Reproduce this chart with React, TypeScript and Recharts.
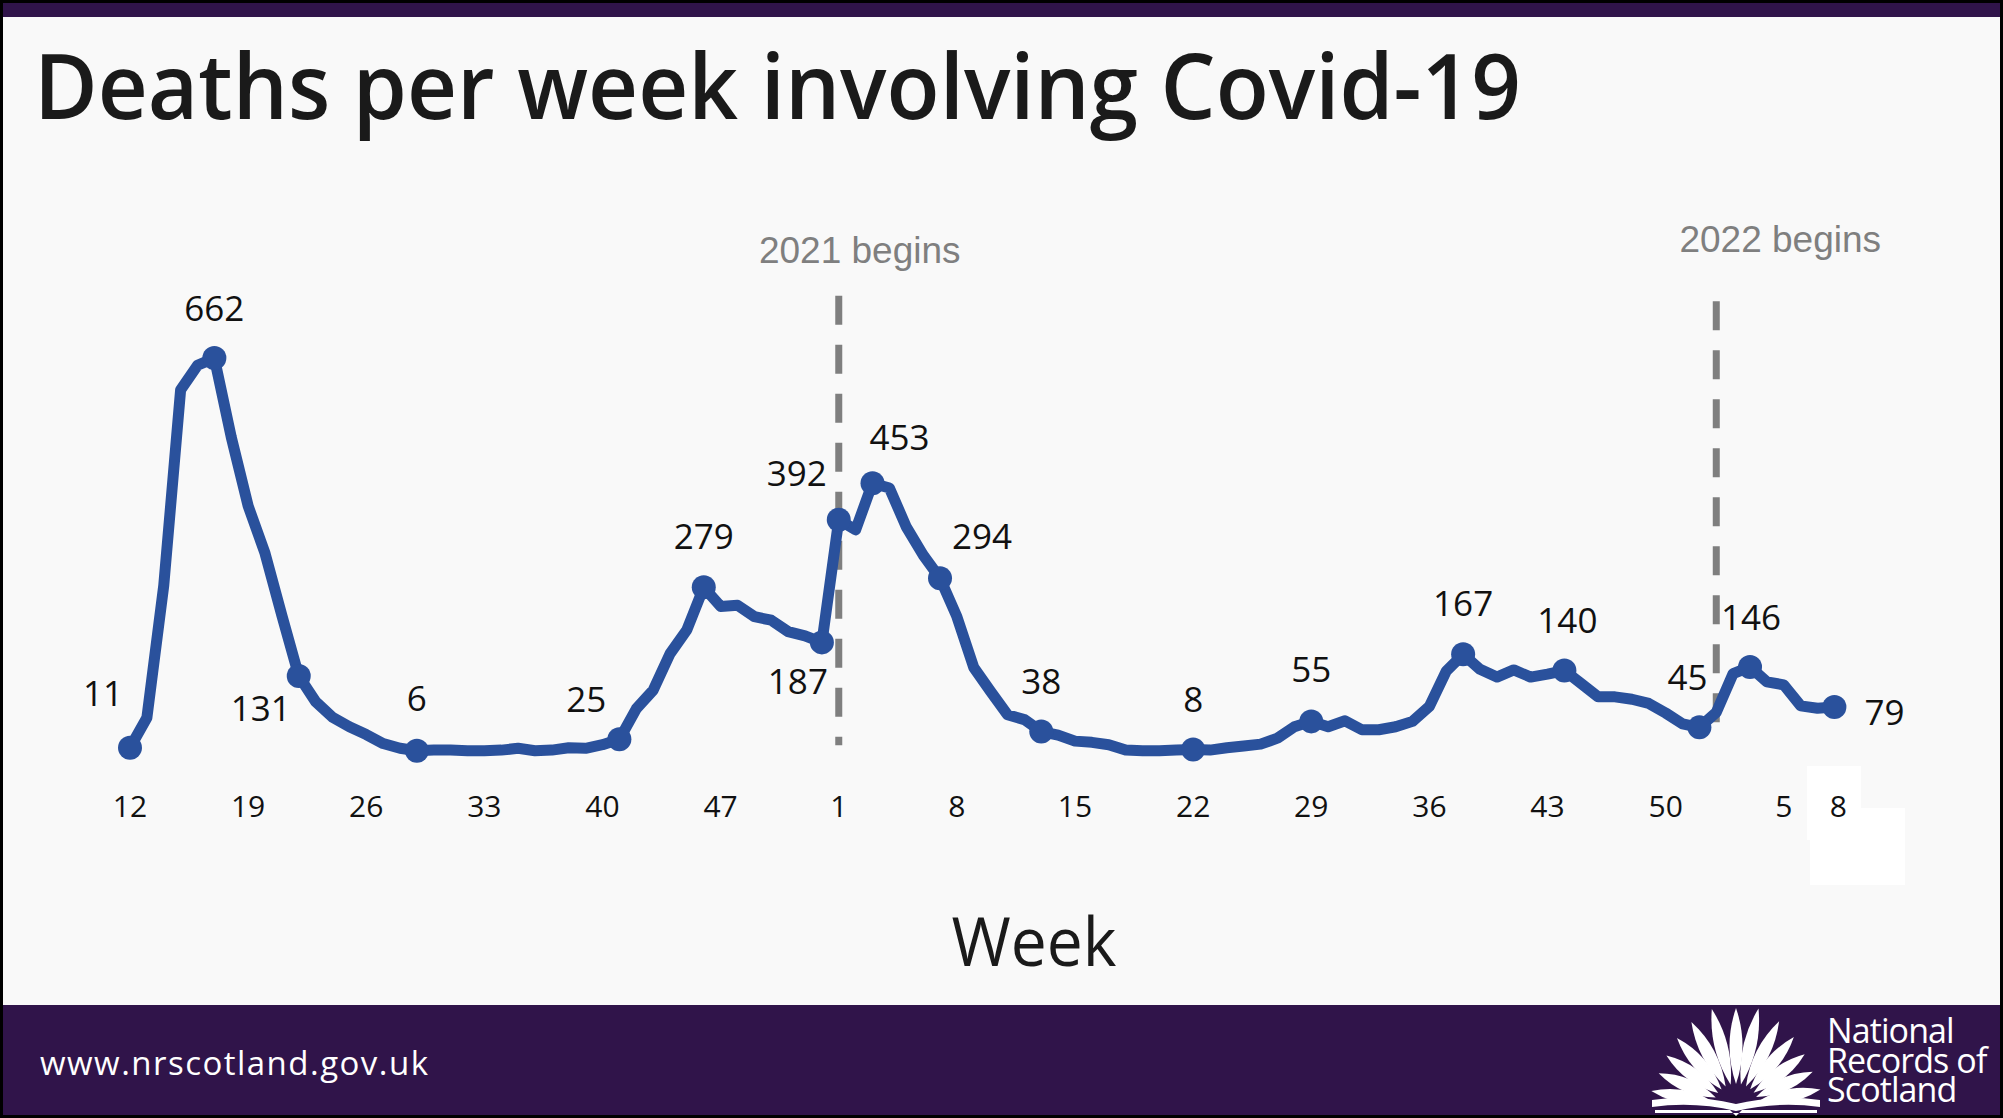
import React from 'react';
import { LineChart, Line, XAxis, YAxis, ReferenceLine } from 'recharts';

// ---- data ----
const weeks2020 = [12, 13, 14, 15, 16, 17, 18, 19, 20, 21, 22, 23, 24, 25, 26, 27, 28, 29, 30, 31, 32, 33, 34, 35, 36, 37, 38, 39, 40, 41, 42, 43, 44, 45, 46, 47, 48, 49, 50, 51, 52, 53];
const deaths2020 = [11, 61, 282, 609, 650, 662, 530, 415, 336, 232, 131, 88, 62, 46, 33, 18, 10, 6, 7, 7, 6, 6, 7, 10, 6, 7, 11, 10, 16, 25, 76, 107, 168, 208, 279, 247, 249, 230, 224, 205, 198, 187];
const weeks2021 = [1, 2, 3, 4, 5, 6, 7, 8, 9, 10, 11, 12, 13, 14, 15, 16, 17, 18, 19, 20, 21, 22, 23, 24, 25, 26, 27, 28, 29, 30, 31, 32, 33, 34, 35, 36, 37, 38, 39, 40, 41, 42, 43, 44, 45, 46, 47, 48, 49, 50, 51, 52];
const deaths2021 = [392, 375, 453, 445, 380, 333, 294, 230, 145, 105, 66, 58, 38, 32, 22, 20, 16, 7, 6, 6, 7, 8, 7, 11, 14, 17, 27, 46, 55, 46, 56, 41, 41, 46, 55, 80, 139, 167, 142, 129, 141, 129, 134, 140, 118, 96, 96, 92, 85, 69, 51, 45];
const weeks2022 = [1, 2, 3, 4, 5, 6, 7, 8];
const deaths2022 = [70, 135, 146, 121, 116, 81, 77, 79];

const tickKeys = ['2020-12', '2020-19', '2020-26', '2020-33', '2020-40', '2020-47', '2021-1', '2021-8', '2021-15', '2021-22', '2021-29', '2021-36', '2021-43', '2021-50', '2022-5', '2022-8'];
const labelledKeys = ['2020-12', '2020-17', '2020-22', '2020-29', '2020-41', '2020-46', '2020-53', '2021-1', '2021-3', '2021-7', '2021-13', '2021-22', '2021-29', '2021-38', '2021-44', '2021-52', '2022-3', '2022-8'];
const yearStartKeys = ['2021-1', '2022-1'];
const yearStartLabels = ['2021 begins', '2022 begins'];

// ---- build table ----
type Row = { i: number; key: string; week: number; deaths: number };
const rows: Row[] = [];
const pushYear = (year: number, weeks: number[], vals: number[]) => {
  weeks.forEach((w, k) => {
    rows.push({ i: rows.length, key: `${year}-${w}`, week: w, deaths: vals[k] });
  });
};
pushYear(2020, weeks2020, deaths2020);
pushYear(2021, weeks2021, deaths2021);
pushYear(2022, weeks2022, deaths2022);
const idxOf = (key: string) => rows.findIndex((r) => r.key === key);
const tickIdx = tickKeys.map(idxOf);
const labelledSet = new Set(labelledKeys.map(idxOf));

// ---- styles ----
const LINE = '#2a519c';
const PURPLE = '#30144a';
const BG = '#f9f9f9';
const GREY = '#7f7f7f';
const TEXT = '#111111';
const SANS = '"Open Sans", "Noto Sans", sans-serif';

// label centre offsets relative to marker (style, by key)
const labelOffset: Record<string, [number, number]> = {
  '2020-12': [-27, -54],
  '2020-17': [0, -50],
  '2020-22': [-38, 33],
  '2020-29': [0, -52],
  '2020-41': [-33, -40],
  '2020-46': [0, -51],
  '2020-53': [-24, 39],
  '2021-1': [-42, -46],
  '2021-3': [27, -46],
  '2021-7': [42, -42],
  '2021-13': [0, -50],
  '2021-22': [0, -50],
  '2021-29': [0, -52],
  '2021-38': [0, -51],
  '2021-44': [3, -50],
  '2021-52': [-12, -50],
  '2022-3': [1, -49],
  '2022-8': [50, 5],
};
const tickDx: Record<string, number> = { '2022-8': 4 };
const yearLabelOffset = [33, 49];
const yearLabelDx = [21, 64];
const yearLineTop = [766, 757];
const yearLineBottom = [15, 32];

const renderDot = (props: any) => {
  const { cx, cy, index, payload } = props;
  if (!labelledSet.has(index) || cx == null || cy == null) return <g key={`d-${index}`} />;
  const off = labelOffset[payload.key] || [0, -50];
  const fs = 35;
  return (
    <g key={`d-${index}`}>
      <circle cx={cx} cy={cy} r={12} fill={LINE} stroke="none" />
      <text
        x={cx + off[0]}
        y={cy + off[1] + fs * 0.357}
        textAnchor="middle"
        fontFamily={SANS}
        fontSize={fs}
        fill={TEXT}
      >
        {payload.deaths}
      </text>
    </g>
  );
};

const renderTick = (props: any) => {
  const { x, y, payload, index } = props;
  const r = rows[payload.value];
  const dx = r ? tickDx[r.key] || 0 : 0;
  return (
    <text key={`t-${index}`} x={x + dx} y={y + 62.4} textAnchor="middle" fontFamily={SANS} fontSize={30} fill={TEXT}>
      {r ? r.week : ''}
    </text>
  );
};

const makeYearLabel = (n: number) => (props: any) => {
  const vb = props.viewBox || {};
  const x = (vb.x ?? 0) + (vb.width ?? 0) / 2 + yearLabelDx[n];
  const y = (vb.y ?? 0) - yearLabelOffset[n];
  return (
    <text x={x} y={y} textAnchor="middle" fill={GREY} fontSize={37} fontFamily='"Liberation Sans", Arial, sans-serif'>
      {yearStartLabels[n]}
    </text>
  );
};

const petals: [number, number][] = [
  [-80, 86], [-67, 84], [-54, 86], [-41, 90], [-28, 95], [-14, 100], [0, 98],
  [13, 100], [27, 95], [40, 90], [53, 86], [66, 84], [79, 86],
];

const LogoIcon = () => {
  const cx = 1736;
  const cy = 1106;
  const r0 = 22;
  return (
    <g fill="#ffffff">
      {petals.map(([a, L], k) => {
        const t = (a * Math.PI) / 180;
        const dx = Math.sin(t);
        const dy = -Math.cos(t);
        const nx = Math.cos(t);
        const ny = Math.sin(t);
        const bx = cx + dx * r0;
        const by = cy + dy * r0;
        const tx = cx + dx * L;
        const ty = cy + dy * L;
        const m = (r0 + L) / 2;
        const mx = cx + dx * m;
        const my = cy + dy * m;
        const w = 13;
        return (
          <path
            key={k}
            d={`M${bx},${by} Q${mx + nx * w},${my + ny * w} ${tx},${ty} Q${mx - nx * w},${my - ny * w} ${bx},${by} Z`}
          />
        );
      })}
      <path d="M1652,1100 Q1694,1094 1736,1104 Q1778,1094 1820,1100 L1820,1107 Q1778,1101 1736,1111 Q1694,1101 1652,1107 Z" />
      <path d="M1655,1110 L1730,1110 L1736,1116 L1742,1110 L1817,1110 L1817,1113 L1655,1113 Z" />
    </g>
  );
};

export default function App() {
  const W = 2003;
  const H = 1118;
  return (
    <div style={{ position: 'absolute', left: 0, top: 0, width: W, height: H, overflow: 'hidden' }}>
      <svg width={W} height={H} style={{ position: 'absolute', left: 0, top: 0 }}>
        <rect x={0} y={0} width={W} height={H} fill="#000000" />
        <rect x={3} y={3} width={W - 6} height={H - 6} fill={BG} />
        <rect x={3} y={3} width={W - 6} height={14} fill={PURPLE} />
        <rect x={3} y={1005} width={W - 6} height={H - 3 - 1005} fill={PURPLE} />
        <rect x={1807} y={766} width={54} height={74} fill="#ffffff" />
        <rect x={1810} y={808} width={95} height={77} fill="#ffffff" />
        <text x={34} y={118.5} fontFamily={SANS} fontWeight={600} fontSize={90} fill="#1a1a1a" textLength={1487} lengthAdjust="spacingAndGlyphs">
          Deaths per week involving Covid-19
        </text>
        <text x={1034} y={965.7} textAnchor="middle" fontFamily={SANS} fontSize={68} fill="#1a1a1a" textLength={165} lengthAdjust="spacingAndGlyphs">
          Week
        </text>
        <text x={40} y={1075} fontFamily={SANS} fontSize={33} fill="#ffffff" textLength={388} lengthAdjust="spacing">
          www.nrscotland.gov.uk
        </text>
        <LogoIcon />
      </svg>
      <div
        style={{
          position: 'absolute',
          left: 1827,
          top: 1016,
          width: 172,
          fontFamily: SANS,
          fontSize: 34,
          lineHeight: '29.5px',
          letterSpacing: '-0.9px',
          color: '#ffffff',
          whiteSpace: 'pre-line',
        }}
      >
        {'National\nRecords of\nScotland'}
      </div>
      <div style={{ position: 'absolute', left: 0, top: 0 }}>
        <LineChart width={W} height={H} data={rows} margin={{ top: 275.5, right: 168.6, bottom: 303.7, left: 130 }}>
          <XAxis
            type="number"
            dataKey="i"
            scale="linear"
            domain={[0, rows.length - 1]}
            ticks={tickIdx}
            interval={0}
            axisLine={false}
            tickLine={false}
            tickSize={0}
            tickMargin={0}
            height={60}
            tick={renderTick}
          />
          <YAxis type="number" domain={[0, 800]} hide />
          {yearStartKeys.map((k, n) => {
            const xi = idxOf(k);
            return (
              <ReferenceLine
                key={k}
                segment={[{ x: xi, y: yearLineTop[n] }, { x: xi, y: yearLineBottom[n] }]}
                stroke={GREY}
                strokeWidth={7}
                strokeDasharray="29 20"
                ifOverflow="visible"
                label={makeYearLabel(n)}
              />
            );
          })}
          <Line
            type="linear"
            dataKey="deaths"
            stroke={LINE}
            strokeWidth={11}
            strokeLinejoin="round"
            strokeLinecap="round"
            dot={renderDot}
            activeDot={false}
            isAnimationActive={false}
          />
        </LineChart>
      </div>
    </div>
  );
}
